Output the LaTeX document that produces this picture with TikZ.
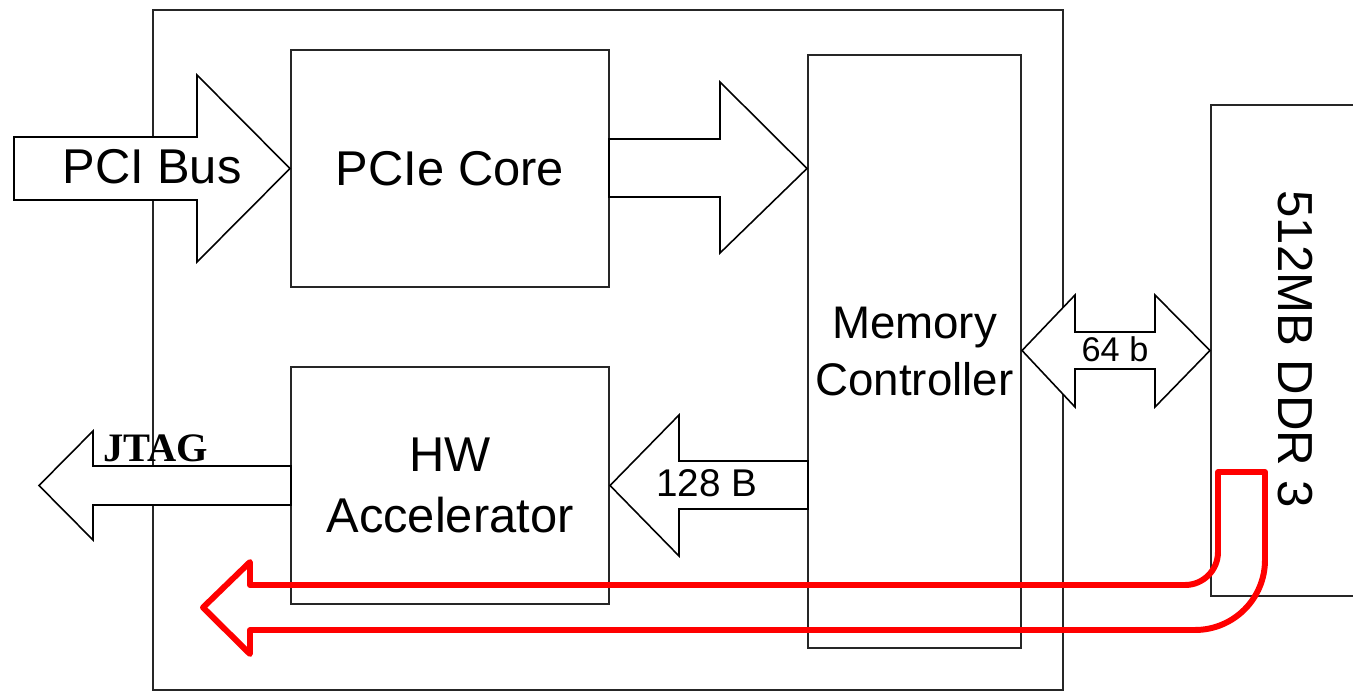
\documentclass[tikz,border=0pt]{standalone}
\usepackage{fontspec}
\setmainfont{Liberation Sans}
\newfontfamily\jtagfont{Liberation Serif}
\usepackage{tikz,xcolor}
\usetikzlibrary{calc}

\tikzset{
  blockbox/.style={draw=black!85, line width=1.2pt, align=center, inner sep=0pt, font=\fontsize{27.8}{35}\selectfont},
  busarrow/.style={draw=black, line width=0.9pt, fill=white, line join=miter},
  redarrow/.style={draw=red, line width=3.4pt, line join=round},
}

\begin{document}
\begin{tikzpicture}[x=0.02cm, y=-0.02cm]
\useasboundingbox (0,0) rectangle (1353,691);
\clip (0,0) rectangle (1353,691);
% Draw the chip outline
\node[blockbox, minimum width=18.2cm, minimum height=13.6cm] (chip) at (608,350) {};
% Draw the inner blocks
\node[blockbox, minimum width=6.36cm, minimum height=4.74cm] (pcie) at (450,168.5) {PCIe Core};
\node[blockbox, minimum width=6.36cm, minimum height=4.74cm] (hwacc) at (450,485.5) {HW\\Accelerator};
\node[blockbox, minimum width=4.26cm, minimum height=11.86cm, font=\fontsize{26}{32.4}\selectfont] (memctl) at (914.5,351.5) {Memory\\Controller};
% Draw the DDR memory
\node[blockbox, minimum width=4cm, minimum height=9.82cm] (ddr) at (1311,350.5) {};
\node[rotate=-90, font=\fontsize{28}{34}\selectfont] (ddrtext) at (1295,349) {512MB DDR 3};

% PCI Bus arrow into the core
\draw[busarrow] (14,137) -- (197,137) -- (197,75) -- (pcie.west) -- (197,262) -- (197,200) -- (14,200) -- cycle;
\node[font=\fontsize{27.8}{35}\selectfont] (pcibus) at (152,167) {PCI Bus};
% Core to controller
\draw[busarrow] (609,139) -- (720,139) -- (720,82) -- (memctl.west |- pcie.east) -- (720,253) -- (720,197) -- (609,197) -- cycle;
% 128 B from controller to accelerator
\draw[busarrow] (808,461) -- (679,461) -- (679,415) -- (hwacc.east) -- (679,556) -- (679,509) -- (808,509) -- cycle;
\node[font=\fontsize{22}{26}\selectfont] (wide128) at (707,483) {128 B};
% JTAG out of the accelerator
\draw[busarrow] (291,466) -- (93,466) -- (93,431) -- (39,485.5) -- (93,540) -- (93,505) -- (291,505) -- cycle;
\node[font=\jtagfont\bfseries\fontsize{23}{27}\selectfont, anchor=base] (jtag) at (156,461) {JTAG};
% 64 b between controller and DDR
\draw[busarrow] (memctl.east |- ddr.west) -- (1075,295) -- (1075,332) -- (1155,332) -- (1155,295) -- (ddr.west) -- (1155,407) -- (1155,369) -- (1075,369) -- (1075,407) -- cycle;
\node[font=\fontsize{19.5}{23}\selectfont] (wide64) at (1115,349) {64 b};

% Red data path from DDR back out
\draw[redarrow] (1218,472) -- (1265,472) -- (1265,560) arc[start angle=0, end angle=-90, radius=1.4cm] -- (250,630) -- (250,654) -- (203,607.5) -- (250,562) -- (250,585) -- (1185,585) arc[start angle=-90, end angle=0, radius=0.66cm] -- cycle;
\end{tikzpicture}
\end{document}
